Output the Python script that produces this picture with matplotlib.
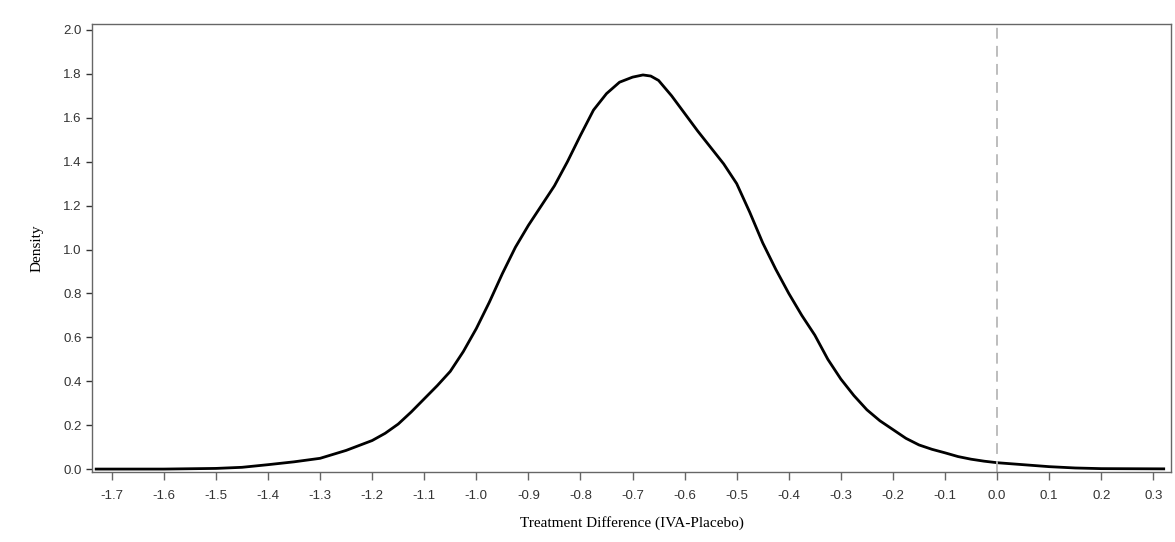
import numpy as np
import matplotlib
matplotlib.use("Agg")
import matplotlib.pyplot as plt

# density of the treatment difference
diff = [-1.73, -1.6, -1.5, -1.45, -1.4, -1.35, -1.3, -1.25, -1.2, -1.175,
        -1.15, -1.125, -1.1, -1.075, -1.05, -1.025, -1.0, -0.975, -0.95, -0.925,
        -0.9, -0.875, -0.85, -0.825, -0.8, -0.775, -0.75, -0.725, -0.7, -0.68,
        -0.665, -0.65, -0.625, -0.6, -0.575, -0.55, -0.525, -0.5, -0.475, -0.45,
        -0.425, -0.4, -0.375, -0.35, -0.325, -0.3, -0.275, -0.25, -0.225, -0.2,
        -0.175, -0.15, -0.125, -0.1, -0.075, -0.05, -0.025, 0.0, 0.05, 0.1,
        0.15, 0.2, 0.32]
density = [0.0, 0.0, 0.003, 0.008, 0.02, 0.033, 0.049, 0.085, 0.13, 0.163,
           0.205, 0.26, 0.32, 0.38, 0.445, 0.535, 0.64, 0.76, 0.89, 1.01,
           1.11, 1.20, 1.29, 1.40, 1.52, 1.635, 1.71, 1.762, 1.785, 1.795,
           1.79, 1.77, 1.70, 1.62, 1.54, 1.465, 1.39, 1.30, 1.17, 1.03,
           0.91, 0.80, 0.70, 0.61, 0.50, 0.41, 0.335, 0.27, 0.22, 0.18,
           0.14, 0.11, 0.09, 0.074, 0.057, 0.045, 0.036, 0.029, 0.02, 0.011,
           0.005, 0.002, 0.001]

xticks = np.round(np.arange(-1.7, 0.31, 0.1), 1)
yticks = np.round(np.arange(0.0, 2.01, 0.2), 1)

fig = plt.figure(figsize=(11.75, 5.42), dpi=100)
ax = fig.add_axes([0.0783, 0.129, 0.9183, 0.8267])

ax.plot(diff, density, color="black", linewidth=2.0, solid_joinstyle="round")
ax.axvline(0.0, color="#b8b8b8", linewidth=1.3, linestyle=(0, (6, 4)))

ax.set_xlim(-1.738, 0.334)
ax.set_ylim(-0.0137, 2.027)
ax.set_xticks(xticks)
ax.set_xticklabels([f"{v:.1f}" for v in xticks])
ax.set_yticks(yticks)
ax.set_yticklabels([f"{v:.1f}" for v in yticks])

for s in ax.spines.values():
    s.set_color("#666666")
    s.set_linewidth(1.0)

ax.tick_params(axis="x", length=6, width=1, color="#666666", labelsize=9.5,
               labelcolor="#333333", pad=7)
ax.tick_params(axis="y", length=4.5, width=1, color="#333333", labelsize=9.5,
               labelcolor="#333333", pad=3)
for lbl in ax.get_xticklabels() + ax.get_yticklabels():
    lbl.set_family("Liberation Sans")

ax.set_xlabel("Treatment Difference (IVA-Placebo)", family="Liberation Serif",
              fontsize=11, labelpad=10)
ax.set_ylabel("Density", family="Liberation Serif", fontsize=11, labelpad=14)

fig.savefig("out.png", dpi=100, facecolor="white")
